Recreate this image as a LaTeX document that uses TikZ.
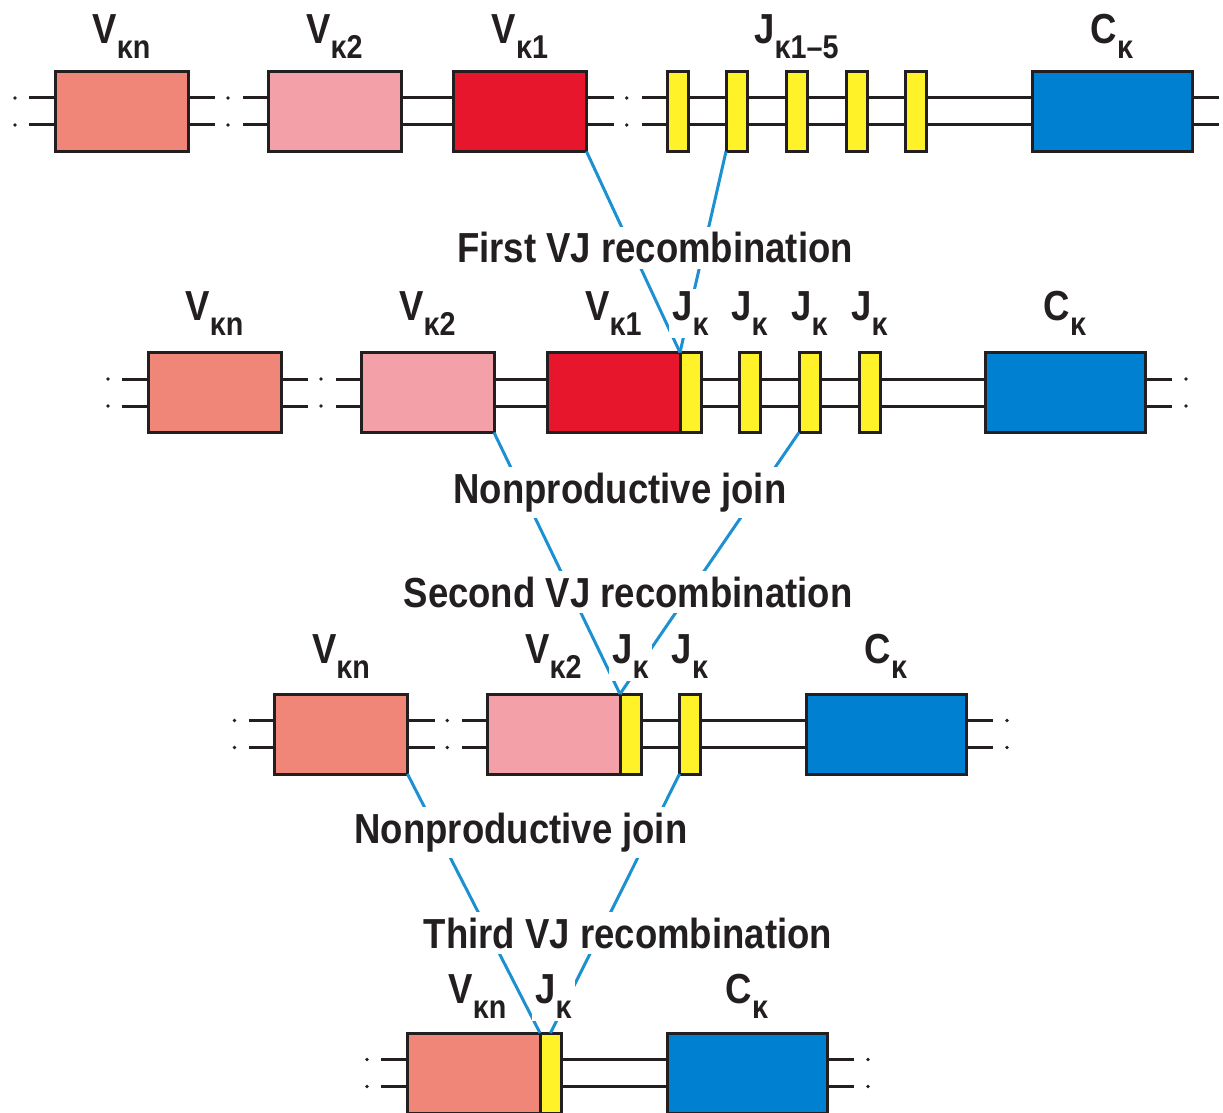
\documentclass[tikz,border=0pt]{standalone}
\usepackage{fontspec}
\setmainfont{Liberation Sans}[FakeStretch=0.87]
\usetikzlibrary{positioning,calc}
\definecolor{salm}{RGB}{240,134,120}
\definecolor{pinkv}{RGB}{244,160,168}
\definecolor{redv}{RGB}{232,22,44}
\definecolor{jyel}{RGB}{255,242,40}
\definecolor{cblue}{RGB}{0,128,208}
\definecolor{vjline}{RGB}{28,144,208}
\definecolor{ink}{RGB}{35,31,32}
\tikzset{
  seg/.style={draw=ink, line width=1.5pt, minimum height=40pt, inner sep=0pt, outer sep=0pt},
  vseg/.style={seg, minimum width=66.5pt},
  jseg/.style={seg, minimum width=10.5pt, fill=jyel},
  cseg/.style={seg, minimum width=80pt, fill=cblue},
  strand/.style={draw=ink, line width=1.5pt},
  vj/.style={draw=vjline, line width=1.5pt},
  lbl/.style={font=\fontsize{21}{22}\selectfont\bfseries, text=ink, fill=white, inner sep=1.5pt, anchor=base},
  ttl/.style={font=\fontsize{21}{24}\selectfont\bfseries, text=ink, fill=white, inner sep=3pt, anchor=base},
}
\newcommand{\ksub}[1]{\raisebox{-7.5pt}{\fontsize{16.5}{16}\selectfont #1}}
\newcommand{\link}[2]{%
  \foreach \o in {-13.5,13.5}
    \draw[strand] ($(#1.east)+(0,\o)$) -- ($(#2.west)+(0,\o)$);
}
\newcommand{\brk}[2]{%
  \foreach \o in {-13.5,13.5} {
    \draw[strand] ($(#1.east)+(0,\o)$) -- ++(27,0);
    \draw[strand] ($(#2.west)+(0,\o)$) -- ++(-25,0);
    \fill[ink] ($(#1.east)!0.5!(#2.west)+(0,\o)$) circle (0.9pt);
  }
}
\newcommand{\openl}[1]{%
  \foreach \o in {-13.5,13.5} {
    \draw[strand] ($(#1.west)+(0,\o)$) -- ++(-26,0);
    \fill[ink] ($(#1.west)+(-40,\o)$) circle (0.9pt);
  }
}
\newcommand{\openr}[1]{%
  \foreach \o in {-13.5,13.5} {
    \draw[strand] ($(#1.east)+(0,\o)$) -- ++(27,0);
    \fill[ink] ($(#1.east)+(41,\o)$) circle (0.9pt);
  }
}
\begin{document}
\begin{tikzpicture}[x=0.5pt, y=-0.5pt]
\useasboundingbox (0,0) rectangle (1223,1113);

% ------------------------------------------------- germline
\node[vseg, fill=salm] (vna) at (121.5,111.5) {};
\node[vseg, fill=pinkv] (v2a) at (334.5,111.5) {};
\node[vseg, fill=redv] (v1a) at (520,111.5) {};
\foreach \i/\x in {1/677.5,2/736.5,3/796.5,4/856.5,5/915.5}
  \node[jseg] (ja\i) at (\x,111.5) {};
\node[cseg] (ca) at (1112,111.5) {};
\openl{vna} \brk{vna}{v2a} \link{v2a}{v1a} \brk{v1a}{ja1}
\link{ja1}{ja2} \link{ja2}{ja3} \link{ja3}{ja4} \link{ja4}{ja5} \link{ja5}{ca}
\foreach \o in {-13.5,13.5}
  \draw[strand] ($(ca.east)+(0,\o)$) -- ++(27,0);

% ------------------------------------------------- first join
\node[vseg, fill=salm] (vnb) at (214.5,392.5) {};
\node[vseg, fill=pinkv] (v2b) at (427.5,392.5) {};
\node[vseg, fill=redv] (v1b) at (613.5,392.5) {};
\node[jseg, right=0pt of v1b] (jb0) {};
\foreach \i/\x in {1/749.5,2/809.5,3/869.5}
  \node[jseg] (jb\i) at (\x,392.5) {};
\node[cseg] (cb) at (1065,392.5) {};
\openl{vnb} \brk{vnb}{v2b} \link{v2b}{v1b}
\link{jb0}{jb1} \link{jb1}{jb2} \link{jb2}{jb3} \link{jb3}{cb} \openr{cb}

% ------------------------------------------------- second join
\node[vseg, fill=salm] (vnc) at (341,734) {};
\node[vseg, fill=pinkv] (v2c) at (553.5,734) {};
\node[jseg, right=0pt of v2c] (jc0) {};
\node[jseg] (jc1) at (690,734) {};
\node[cseg] (cc) at (886,734) {};
\openl{vnc} \brk{vnc}{v2c} \link{jc0}{jc1} \link{jc1}{cc} \openr{cc}

% ------------------------------------------------- third join
\node[vseg, fill=salm] (vnd) at (473.5,1073) {};
\node[jseg, right=0pt of vnd] (jd0) {};
\node[cseg] (cd) at (747,1073) {};
\openl{vnd} \link{jd0}{cd} \openr{cd}

% ------------------------------------------------- recombination paths
\draw[vj] (v1a.south east) -- (v1b.north east);
\draw[vj] (ja2.south west) -- (v1b.north east);
\draw[vj] (v2b.south east) -- (v2c.north east);
\draw[vj] (jb2.south west) -- (v2c.north east);
\draw[vj] (vnc.south east) -- (vnd.north east);
\draw[vj] (jc1.south west) -- (jd0.north);

% ------------------------------------------------- labels
\node[lbl] (lvna) at ($(vna.north)+(0,-28)$) {V\ksub{κn}};
\node[lbl] (lv2a) at ($(v2a.north)+(0,-28)$) {V\ksub{κ2}};
\node[lbl] (lv1a) at ($(v1a.north)+(0,-28)$) {V\ksub{κ1}};
\node[lbl] (lja) at ($(ja3.north)+(0,-28)$) {J\ksub{κ1–5}};
\node[lbl] (lca) at ($(ca.north)+(0,-28)$) {C\ksub{κ}};

\node[lbl] (lvnb) at ($(vnb.north)+(0,-32)$) {V\ksub{κn}};
\node[lbl] (lv2b) at ($(v2b.north)+(0,-32)$) {V\ksub{κ2}};
\node[lbl] (lv1b) at ($(v1b.north)+(0,-32)$) {V\ksub{κ1}};
\foreach \j in {0,...,3}
  \node[lbl] (ljb\j) at ($(jb\j.north)+(0,-32)$) {J\ksub{κ}};
\node[lbl] (lcb) at ($(cb.north)+(0,-32)$) {C\ksub{κ}};

\node[lbl] (lvnc) at ($(vnc.north)+(0,-31)$) {V\ksub{κn}};
\node[lbl] (lv2c) at ($(v2c.north)+(0,-31)$) {V\ksub{κ2}};
\node[lbl] (ljc0) at ($(jc0.north)+(0,-31)$) {J\ksub{κ}};
\node[lbl] (ljc1) at ($(jc1.north)+(0,-31)$) {J\ksub{κ}};
\node[lbl] (lcc) at ($(cc.north)+(0,-31)$) {C\ksub{κ}};

\node[lbl, fill=none] (lvnd) at ($(vnd.north)+(4,-30)$) {V\ksub{κn}};
\node[lbl] (ljd0) at ($(jd0.north)+(3,-30)$) {J\ksub{κ}};
\node[lbl] (lcd) at ($(cd.north)+(0,-30)$) {C\ksub{κ}};

\node[ttl] (t1) at (655,263) {First VJ recombination};
\node[ttl] (t2) at (620,503) {Nonproductive join};
\node[ttl] (t3) at (628,607) {Second VJ recombination};
\node[ttl] (t4) at (521,843) {Nonproductive join};
\node[ttl] (t5) at (628,948) {Third VJ recombination};

\end{tikzpicture}
\end{document}
